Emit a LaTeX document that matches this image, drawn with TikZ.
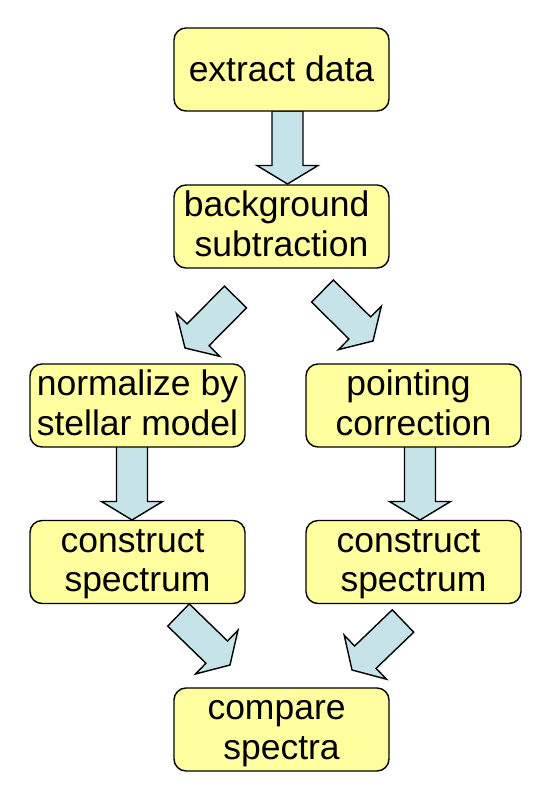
\documentclass[tikz,border=0pt]{standalone}
\usepackage{fontspec}
\setmainfont{Liberation Sans}
\usetikzlibrary{calc}
\definecolor{boxfill}{RGB}{255,255,160}
\definecolor{arrowfill}{RGB}{197,227,232}
\newcommand\blockarrow[2]{%
  \coordinate (ba-h) at ($(#2)!18.5pt!(#1)$);
  \draw[barrow] ($(#1)!15.5pt!90:(#2)$) -- ($(ba-h)!15.5pt!-90:(#1)$) -- ($(ba-h)!30.5pt!-90:(#1)$) -- (#2)
     -- ($(ba-h)!30.5pt!90:(#1)$) -- ($(ba-h)!15.5pt!90:(#1)$) -- ($(#1)!15.5pt!-90:(#2)$) -- cycle;
}
\newcommand\tsp{\hspace*{0.278em}}
\newcommand\lst{\rule[-8pt]{0pt}{35.5pt}}% two-line strut: height 27.5, depth 8
\newcommand\sst{\rule[-5.6pt]{0pt}{35.6pt}}% one-line strut: height 30, depth 5.6
\begin{document}
\begin{tikzpicture}[x=1pt,y=-1pt,
  stepbox/.style={draw=black, line width=1.4pt, fill=boxfill, rounded corners=12pt,
    minimum width=215pt, minimum height=83pt, inner sep=0pt, align=center,
    font=\fontsize{35.5}{39.5}\selectfont},
  barrow/.style={draw=black, line width=1.4pt, fill=arrowfill, line join=miter}]
\useasboundingbox (0,0) rectangle (554,796);
% arrow end points
\coordinate (a1s) at (287.5,111); \coordinate (a1t) at (287.5,184);
\coordinate (a2s) at (235.5,297); \coordinate (a2t) at (185,348);
\coordinate (a3s) at (322.5,291); \coordinate (a3t) at (373,341);
\coordinate (a4s) at (132,446);   \coordinate (a4t) at (132,520);
\coordinate (a5s) at (420,446);   \coordinate (a5t) at (420,520);
\coordinate (a6s) at (178.5,615); \coordinate (a6t) at (230,665);
\coordinate (a7s) at (403,621);   \coordinate (a7t) at (352,670);
\blockarrow{a1s}{a1t}
\blockarrow{a2s}{a2t}
\blockarrow{a3s}{a3t}
\blockarrow{a4s}{a4t}
\blockarrow{a5s}{a5t}
\blockarrow{a6s}{a6t}
\blockarrow{a7s}{a7t}
% boxes
\node[stepbox] (n1) at (281.5,69.5) {\sst extract data};
\node[stepbox] (n2) at (281.5,226.5) {\lst background\tsp\\\lst subtraction};
\node[stepbox] (n3) at (137.5,405.5) {\lst normalize by\\\lst stellar model};
\node[stepbox] (n4) at (413.5,405.5) {\lst pointing\tsp\\\lst correction};
\node[stepbox] (n5) at (137.5,562) {\lst construct\tsp\\\lst spectrum};
\node[stepbox] (n6) at (413.5,562) {\lst construct\tsp\\\lst spectrum};
\node[stepbox] (n7) at (281.5,729.5) {\lst compare\tsp\\\lst spectra};
\end{tikzpicture}
\end{document}
